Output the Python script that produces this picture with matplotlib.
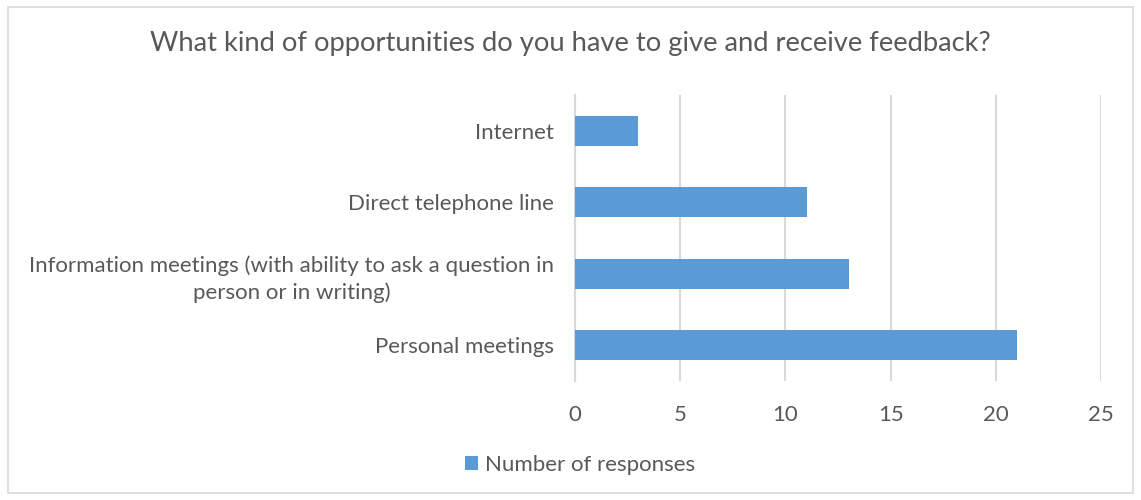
import matplotlib.pyplot as plt
from matplotlib.patches import Rectangle

categories = [
    "Personal meetings",
    "Information meetings (with ability to ask a question in\nperson or in writing)",
    "Direct telephone line",
    "Internet",
]
responses = [21, 13, 11, 3]
x_ticks = [0, 5, 10, 15, 20, 25]
series_name = "Number of responses"
title = "What kind of opportunities do you have to give and receive feedback?"

bar_color = "#5B9BD5"
text_color = "#595959"
grid_color = "#D9D9D9"

plt.rcParams["font.family"] = ["Lato", "DejaVu Sans"]

fig = plt.figure(figsize=(11.41, 5.0), dpi=100)
ax = fig.add_axes([0.504, 0.238, 0.461, 0.572])

ax.barh(categories, responses, height=0.42, color=bar_color, label=series_name, zorder=3)

ax.set_xlim(0, 25)
ax.set_ylim(-0.5, len(categories) - 0.5)
ax.set_xticks(x_ticks)
ax.xaxis.grid(True, color=grid_color, linewidth=1.5, zorder=0)
ax.set_axisbelow(True)

for side in ["top", "right", "bottom"]:
    ax.spines[side].set_visible(False)
ax.spines["left"].set_color(grid_color)
ax.spines["left"].set_linewidth(1.5)

ax.tick_params(axis="x", length=0, pad=17, labelsize=16, labelcolor=text_color)
ax.tick_params(axis="y", length=0, pad=15, labelsize=16, labelcolor=text_color)
for lbl in ax.get_yticklabels():
    lbl.set_multialignment("center")
    lbl.set_linespacing(1.38)

fig.text(0.5, 0.914, title, ha="center", va="center", fontsize=19.7, color=text_color)

fig.legend(loc="center", bbox_to_anchor=(0.508, 0.07), frameon=False, fontsize=16,
           labelcolor=text_color, handlelength=0.6, handleheight=0.6, handletextpad=0.3)

# light frame around the whole chart area
fig.patches.append(Rectangle((8 / 1141, 7 / 500), 1125 / 1141, 486 / 500,
                             transform=fig.transFigure, fill=False,
                             edgecolor=grid_color, linewidth=1.2))

fig.savefig("out.png", dpi=100, facecolor="white")
